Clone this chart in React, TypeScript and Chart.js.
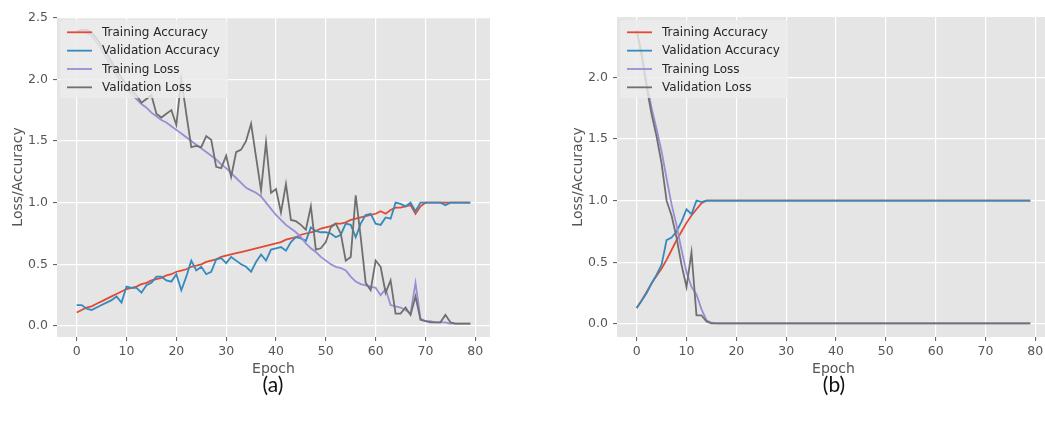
import React, { useEffect, useRef } from 'react';
import { Chart, registerables } from 'chart.js';

Chart.register(...registerables);

// ---------- data ----------
const epochs: number[] = Array.from({ length: 80 }, (_, i) => i);

const xTicks = [0, 10, 20, 30, 40, 50, 60, 70, 80];
const xTickLabels = ['0', '10', '20', '30', '40', '50', '60', '70', '80'];

const aYTicks = [0, 0.5, 1.0, 1.5, 2.0, 2.5];
const aYTickLabels = ['0.0', '0.5', '1.0', '1.5', '2.0', '2.5'];
const bYTicks = [0, 0.5, 1.0, 1.5, 2.0];
const bYTickLabels = ['0.0', '0.5', '1.0', '1.5', '2.0'];

const seriesNames = ['Training Accuracy', 'Validation Accuracy', 'Training Loss', 'Validation Loss'];
const seriesColors = ['#E24A33', '#348ABD', '#988ED5', '#6F6F6F'];

const panelLabels = ['(a)', '(b)'];
const xTitle = 'Epoch';
const yTitle = 'Loss/Accuracy';

// (a)
const aTrainAcc = [
  0.11, 0.13, 0.15, 0.16, 0.18, 0.20, 0.22, 0.24, 0.26, 0.28,
  0.30, 0.31, 0.32, 0.34, 0.35, 0.37, 0.38, 0.39, 0.41, 0.42,
  0.44, 0.45, 0.46, 0.48, 0.49, 0.50, 0.52, 0.53, 0.54, 0.56,
  0.57, 0.58, 0.59, 0.60, 0.61, 0.62, 0.63, 0.64, 0.65, 0.66,
  0.67, 0.68, 0.70, 0.71, 0.72, 0.74, 0.75, 0.76, 0.77, 0.79,
  0.80, 0.81, 0.83, 0.83, 0.84, 0.86, 0.87, 0.88, 0.89, 0.90,
  0.91, 0.93, 0.91, 0.94, 0.96, 0.96, 0.97, 0.98, 0.91, 0.97,
  1.0, 1.0, 1.0, 1.0, 1.0, 1.0, 1.0, 1.0, 1.0, 1.0,
];
const aValAcc = [
  0.17, 0.17, 0.14, 0.13, 0.15, 0.17, 0.19, 0.21, 0.24, 0.19,
  0.32, 0.31, 0.31, 0.27, 0.33, 0.35, 0.40, 0.40, 0.37, 0.36,
  0.42, 0.29, 0.40, 0.53, 0.45, 0.48, 0.42, 0.44, 0.54, 0.55,
  0.51, 0.56, 0.53, 0.50, 0.48, 0.44, 0.52, 0.58, 0.53, 0.62,
  0.63, 0.64, 0.61, 0.68, 0.72, 0.71, 0.69, 0.80, 0.77, 0.76,
  0.76, 0.75, 0.72, 0.74, 0.83, 0.82, 0.72, 0.83, 0.90, 0.91,
  0.83, 0.82, 0.88, 0.87, 1.0, 0.99, 0.97, 1.0, 0.93, 1.0,
  1.0, 1.0, 1.0, 1.0, 0.98, 1.0, 1.0, 1.0, 1.0, 1.0,
];
const aTrainLoss = [
  2.39, 2.39, 2.38, 2.35, 2.30, 2.24, 2.17, 2.10, 2.03, 1.97,
  1.92, 1.88, 1.84, 1.80, 1.77, 1.73, 1.70, 1.67, 1.65, 1.62,
  1.59, 1.56, 1.53, 1.50, 1.47, 1.44, 1.41, 1.38, 1.35, 1.31,
  1.28, 1.24, 1.20, 1.16, 1.12, 1.10, 1.08, 1.05, 1.00, 0.95,
  0.90, 0.86, 0.82, 0.79, 0.76, 0.72, 0.67, 0.63, 0.60, 0.56,
  0.53, 0.50, 0.48, 0.47, 0.45, 0.40, 0.36, 0.34, 0.33, 0.32,
  0.31, 0.25, 0.30, 0.17, 0.16, 0.15, 0.13, 0.10, 0.35, 0.06,
  0.04, 0.04, 0.03, 0.03, 0.03, 0.02, 0.02, 0.02, 0.02, 0.02,
];
const aValLoss = [
  2.39, 2.40, 2.40, 2.38, 2.33, 2.27, 2.21, 2.14, 2.07, 2.01,
  1.96, 1.91, 1.87, 1.81, 1.84, 1.87, 1.72, 1.69, 1.72, 1.75,
  1.63, 2.00, 1.72, 1.45, 1.46, 1.45, 1.54, 1.51, 1.29, 1.28,
  1.38, 1.21, 1.41, 1.43, 1.50, 1.64, 1.37, 1.10, 1.49, 1.08,
  1.11, 0.92, 1.15, 0.86, 0.85, 0.82, 0.78, 0.97, 0.62, 0.63,
  0.68, 0.80, 0.83, 0.75, 0.53, 0.56, 1.06, 0.72, 0.35, 0.29,
  0.53, 0.48, 0.27, 0.37, 0.10, 0.10, 0.15, 0.09, 0.24, 0.05,
  0.04, 0.03, 0.03, 0.03, 0.09, 0.03, 0.02, 0.02, 0.02, 0.02,
];

// (b)
const bTrainAcc = [
  0.13, 0.19, 0.26, 0.33, 0.39, 0.45, 0.52, 0.60, 0.68, 0.75,
  0.82, 0.88, 0.93, 0.98, 1.0, 1.0, 1.0, 1.0, 1.0, 1.0,
  1.0, 1.0, 1.0, 1.0, 1.0, 1.0, 1.0, 1.0, 1.0, 1.0,
  1.0, 1.0, 1.0, 1.0, 1.0, 1.0, 1.0, 1.0, 1.0, 1.0,
  1.0, 1.0, 1.0, 1.0, 1.0, 1.0, 1.0, 1.0, 1.0, 1.0,
  1.0, 1.0, 1.0, 1.0, 1.0, 1.0, 1.0, 1.0, 1.0, 1.0,
  1.0, 1.0, 1.0, 1.0, 1.0, 1.0, 1.0, 1.0, 1.0, 1.0,
  1.0, 1.0, 1.0, 1.0, 1.0, 1.0, 1.0, 1.0, 1.0, 1.0,
];
const bValAcc = [
  0.13, 0.19, 0.25, 0.33, 0.40, 0.48, 0.68, 0.70, 0.75, 0.83,
  0.93, 0.89, 1.0, 0.99, 1.0, 1.0, 1.0, 1.0, 1.0, 1.0,
  1.0, 1.0, 1.0, 1.0, 1.0, 1.0, 1.0, 1.0, 1.0, 1.0,
  1.0, 1.0, 1.0, 1.0, 1.0, 1.0, 1.0, 1.0, 1.0, 1.0,
  1.0, 1.0, 1.0, 1.0, 1.0, 1.0, 1.0, 1.0, 1.0, 1.0,
  1.0, 1.0, 1.0, 1.0, 1.0, 1.0, 1.0, 1.0, 1.0, 1.0,
  1.0, 1.0, 1.0, 1.0, 1.0, 1.0, 1.0, 1.0, 1.0, 1.0,
  1.0, 1.0, 1.0, 1.0, 1.0, 1.0, 1.0, 1.0, 1.0, 1.0,
];
const bTrainLoss = [
  2.38, 2.20, 1.95, 1.75, 1.58, 1.40, 1.18, 0.97, 0.80, 0.60,
  0.42, 0.30, 0.24, 0.12, 0.03, 0.01, 0.005, 0.005, 0.005, 0.005,
  0.005, 0.005, 0.005, 0.005, 0.005, 0.005, 0.005, 0.005, 0.005, 0.005,
  0.005, 0.005, 0.005, 0.005, 0.005, 0.005, 0.005, 0.005, 0.005, 0.005,
  0.005, 0.005, 0.005, 0.005, 0.005, 0.005, 0.005, 0.005, 0.005, 0.005,
  0.005, 0.005, 0.005, 0.005, 0.005, 0.005, 0.005, 0.005, 0.005, 0.005,
  0.005, 0.005, 0.005, 0.005, 0.005, 0.005, 0.005, 0.005, 0.005, 0.005,
  0.005, 0.005, 0.005, 0.005, 0.005, 0.005, 0.005, 0.005, 0.005, 0.005,
];
const bValLoss = [
  2.38, 2.18, 1.92, 1.70, 1.52, 1.30, 1.00, 0.88, 0.70, 0.48,
  0.30, 0.58, 0.07, 0.07, 0.02, 0.005, 0.005, 0.005, 0.005, 0.005,
  0.005, 0.005, 0.005, 0.005, 0.005, 0.005, 0.005, 0.005, 0.005, 0.005,
  0.005, 0.005, 0.005, 0.005, 0.005, 0.005, 0.005, 0.005, 0.005, 0.005,
  0.005, 0.005, 0.005, 0.005, 0.005, 0.005, 0.005, 0.005, 0.005, 0.005,
  0.005, 0.005, 0.005, 0.005, 0.005, 0.005, 0.005, 0.005, 0.005, 0.005,
  0.005, 0.005, 0.005, 0.005, 0.005, 0.005, 0.005, 0.005, 0.005, 0.005,
  0.005, 0.005, 0.005, 0.005, 0.005, 0.005, 0.005, 0.005, 0.005, 0.005,
];

// ---------- styling ----------
const FONT = "'DejaVu Sans', sans-serif";
const TEXT_GREY = '#555555';
const PLOT_BG = '#E5E5E5';

const bgPlugin = {
  id: 'plotBg',
  beforeDraw(chart: any) {
    const { ctx, chartArea } = chart;
    ctx.save();
    ctx.fillStyle = PLOT_BG;
    ctx.fillRect(chartArea.left, chartArea.top, chartArea.right - chartArea.left, chartArea.bottom - chartArea.top);
    ctx.restore();
  },
};

const legendPlugin = {
  id: 'innerLegend',
  afterDatasetsDraw(chart: any) {
    const { ctx, chartArea } = chart;
    const bx = chartArea.left + 3;
    const by = chartArea.top + 3;
    const bw = 168;
    const bh = 78;
    ctx.save();
    ctx.fillStyle = 'rgba(236,236,236,0.82)';
    ctx.beginPath();
    if (ctx.roundRect) ctx.roundRect(bx, by, bw, bh, 3);
    else ctx.rect(bx, by, bw, bh);
    ctx.fill();
    ctx.font = `12px ${FONT}`;
    ctx.textBaseline = 'middle';
    ctx.textAlign = 'left';
    chart.data.datasets.forEach((ds: any, i: number) => {
      const y = chartArea.top + 15.3 + i * 18.35;
      ctx.strokeStyle = ds.borderColor;
      ctx.lineWidth = 1.8;
      ctx.beginPath();
      ctx.moveTo(chartArea.left + 10, y);
      ctx.lineTo(chartArea.left + 35, y);
      ctx.stroke();
      ctx.fillStyle = '#262626';
      ctx.fillText(ds.label, chartArea.left + 45, y + 0.5);
    });
    ctx.restore();
  },
};

function makeConfig(series: number[][], yTicks: number[], yLabels: string[], yMin: number, yMax: number): any {
  const orders = [3, 2, 1, 0];
  return {
    type: 'line',
    data: {
      datasets: series.map((vals, i) => ({
        label: seriesNames[i],
        data: vals.map((v, j) => ({ x: epochs[j], y: v })),
        borderColor: seriesColors[i],
        backgroundColor: seriesColors[i],
        borderWidth: 1.8,
        pointRadius: 0,
        pointHoverRadius: 0,
        tension: 0,
        fill: false,
        order: orders[i],
      })),
    },
    options: {
      responsive: false,
      animation: false,
      events: [],
      layout: { padding: { top: 17, right: 30, left: 0, bottom: 0 } },
      plugins: { legend: { display: false }, tooltip: { enabled: false } },
      scales: {
        x: {
          type: 'linear',
          min: -3.95,
          max: 82.95,
          afterBuildTicks: (s: any) => {
            s.ticks = xTicks.map((v) => ({ value: v }));
          },
          afterFit: (s: any) => {
            s.height = 43;
          },
          ticks: {
            callback: (_v: any, i: number) => xTickLabels[i],
            color: TEXT_GREY,
            font: { family: FONT, size: 12.5 },
            padding: 3,
            maxRotation: 0,
            autoSkip: false,
          },
          grid: { color: '#FFFFFF', lineWidth: 1.2, tickColor: TEXT_GREY, tickLength: 4, tickWidth: 1 },
          border: { display: false },
          title: {
            display: true,
            text: xTitle,
            color: TEXT_GREY,
            font: { family: FONT, size: 14 },
            padding: { top: 0, bottom: 2 },
          },
        },
        y: {
          type: 'linear',
          min: yMin,
          max: yMax,
          afterBuildTicks: (s: any) => {
            s.ticks = yTicks.map((v) => ({ value: v }));
          },
          afterFit: (s: any) => {
            s.width = 57;
          },
          ticks: {
            callback: (_v: any, i: number) => yLabels[i],
            color: TEXT_GREY,
            font: { family: FONT, size: 12.5 },
            padding: 5,
            autoSkip: false,
          },
          grid: { color: '#FFFFFF', lineWidth: 1.2, tickColor: TEXT_GREY, tickLength: 4, tickWidth: 1 },
          border: { display: false },
          title: {
            display: true,
            text: yTitle,
            color: TEXT_GREY,
            font: { family: FONT, size: 14 },
            padding: { top: 10, bottom: 0 },
          },
        },
      },
    },
    plugins: [bgPlugin, legendPlugin],
  };
}

function Panel(props: { series: number[][]; yTicks: number[]; yLabels: string[]; yMin: number; yMax: number; left: number }) {
  const ref = useRef<HTMLCanvasElement | null>(null);
  useEffect(() => {
    if (!ref.current) return;
    const chart = new Chart(ref.current, makeConfig(props.series, props.yTicks, props.yLabels, props.yMin, props.yMax));
    return () => chart.destroy();
  }, []);
  return (
    <canvas
      ref={ref}
      width={520}
      height={380}
      style={{ position: 'absolute', left: props.left, top: 0, width: 520, height: 380 }}
    />
  );
}

export default function App() {
  return (
    <div
      style={{
        position: 'absolute',
        left: 0,
        top: 0,
        width: 1045,
        height: 422,
        overflow: 'hidden',
        background: '#FFFFFF',
      }}
    >
      <Panel series={[aTrainAcc, aValAcc, aTrainLoss, aValLoss]} yTicks={aYTicks} yLabels={aYTickLabels} yMin={-0.089} yMax={2.505} left={0} />
      <Panel series={[bTrainAcc, bValAcc, bTrainLoss, bValLoss]} yTicks={bYTicks} yLabels={bYTickLabels} yMin={-0.106} yMax={2.49} left={560} />
      {panelLabels.map((t, i) => (
        <div
          key={t}
          style={{
            position: 'absolute',
            left: i === 0 ? 273 : 834,
            top: 383,
            transform: 'translate(-50%, -50%)',
            fontFamily: "Lato, 'Open Sans', sans-serif",
            fontSize: 21,
            lineHeight: 1,
            color: '#111111',
          }}
        >
          {t}
        </div>
      ))}
    </div>
  );
}
